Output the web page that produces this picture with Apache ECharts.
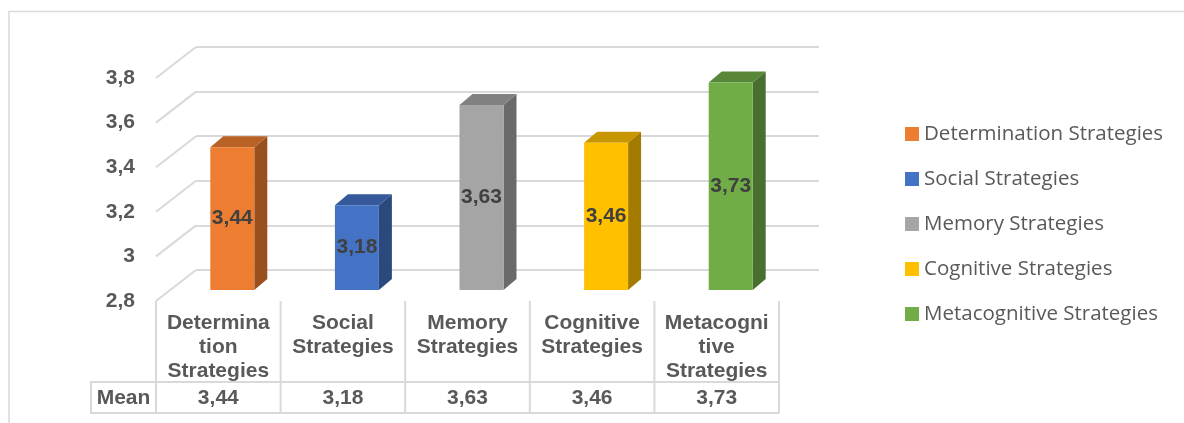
<!DOCTYPE html>
<html>
<head>
<meta charset="utf-8">
<script src="https://cdn.jsdelivr.net/npm/echarts@6/dist/echarts.min.js"></script>
<style>
  html, body { margin: 0; padding: 0; background: #fff; }
  #main { width: 1184px; height: 423px; }
</style>
</head>
<body>
<div id="main"></div>
<script>
// data
var categories = ['Determination Strategies', 'Social Strategies', 'Memory Strategies', 'Cognitive Strategies', 'Metacognitive Strategies'];
var tableHeads = ['Determina\ntion\nStrategies', 'Social\nStrategies', 'Memory\nStrategies', 'Cognitive\nStrategies', 'Metacogni\ntive\nStrategies'];
var means = [3.44, 3.18, 3.63, 3.46, 3.73];
var ticks = [2.8, 3.0, 3.2, 3.4, 3.6, 3.8];
var colors = ['#ED7D31', '#4472C4', '#A5A5A5', '#FFC000', '#70AD47'];

var yMin = 2.8, yMax = 3.8, yStep = 0.2;
var lineColor = '#d9d9d9';

function shade(hex, f) {
    var c = echarts.color.parse(hex);
    return 'rgb(' + Math.round(c[0] * f) + ',' + Math.round(c[1] * f) + ',' + Math.round(c[2] * f) + ')';
}
function comma(v) {
    return String(+v.toFixed(2)).replace('.', ',');
}

// 3d bar
function renderBar(params, api) {
    var i = api.value(0), v = api.value(1);
    var top = api.coord([i, v]);
    var base = api.coord([i, yMin]);
    var w = api.size([1, 0])[0] * 0.353;
    var dx = 13, dy = -11;
    var x0 = top[0] - w / 2, x1 = top[0] + w / 2;
    var col = colors[i];
    return {
        type: 'group',
        children: [
            { type: 'polygon', shape: { points: [[x1, top[1]], [x1 + dx, top[1] + dy], [x1 + dx, base[1] + dy], [x1, base[1]]] },
              style: { fill: shade(col, 0.64) } },
            { type: 'polygon', shape: { points: [[x0, top[1]], [x0 + dx, top[1] + dy], [x1 + dx, top[1] + dy], [x1, top[1]]] },
              style: { fill: shade(col, 0.78) } },
            { type: 'rect', shape: { x: x0, y: top[1], width: w, height: base[1] - top[1] },
              style: { fill: col } },
            { type: 'text', x: top[0], y: (top[1] + base[1]) / 2,
              style: { text: comma(v), fill: '#404040', font: 'bold 21px "Liberation Sans", Arial, sans-serif',
                       align: 'center', verticalAlign: 'middle' } }
        ]
    };
}

// floor diagonals on the left
function renderFloor(params, api) {
    var p = api.coord([0, api.value(0)]);
    var x = params.coordSys.x;
    return {
        type: 'line',
        shape: { x1: x, y1: p[1], x2: x - 40, y2: p[1] + 31 },
        style: { stroke: lineColor, lineWidth: 2 }
    };
}

// data table below the chart
function renderTable(params, api) {
    var i = api.value(0), v = api.value(1);
    var p = api.coord([i, yMin]);
    var cw = api.size([1, 0])[0];
    var xl = p[0] - cw / 2, xr = p[0] + cw / 2;
    var yTop = p[1], yMid = p[1] + 81, yBot = p[1] + 112;
    var ls = { stroke: lineColor, lineWidth: 2, fill: 'none' };
    var font = 'bold 21px "Liberation Sans", Arial, sans-serif';
    var kids = [
        { type: 'line', shape: { x1: xr, y1: yTop, x2: xr, y2: yBot }, style: ls },
        { type: 'line', shape: { x1: xl, y1: yMid, x2: xr, y2: yMid }, style: ls },
        { type: 'line', shape: { x1: xl, y1: yBot, x2: xr, y2: yBot }, style: ls },
        { type: 'text', x: p[0], y: yTop + 10,
          style: { text: tableHeads[i], fill: '#595959', font: font, align: 'center', verticalAlign: 'top', lineHeight: 24 } },
        { type: 'text', x: p[0], y: (yMid + yBot) / 2 + 1,
          style: { text: comma(v), fill: '#595959', font: font, align: 'center', verticalAlign: 'middle' } }
    ];
    if (i === 0) {
        kids.push(
            { type: 'line', shape: { x1: xl, y1: yTop, x2: xl, y2: yBot }, style: ls },
            { type: 'polyline', shape: { points: [[xl, yMid], [xl - 65, yMid], [xl - 65, yBot], [xl, yBot]] }, style: ls },
            { type: 'text', x: xl - 32.5, y: (yMid + yBot) / 2 + 1,
              style: { text: 'Mean', fill: '#595959', font: font, align: 'center', verticalAlign: 'middle' } }
        );
    }
    return { type: 'group', children: kids };
}

function hiddenX(idx) {
    return { type: 'category', gridIndex: idx, data: categories, show: false };
}
function valY(idx, extra) {
    var y = { type: 'value', gridIndex: idx, min: yMin, max: yMax, interval: yStep,
              axisLine: { show: false }, axisTick: { show: false },
              axisLabel: { show: false }, splitLine: { show: false } };
    return Object.assign(y, extra || {});
}

var barSeries = categories.map(function (name, i) {
    return {
        name: name,
        type: 'custom',
        xAxisIndex: 2,
        yAxisIndex: 2,
        itemStyle: { color: colors[i] },
        renderItem: renderBar,
        encode: { x: 0, y: 1 },
        data: [[i, means[i]]],
        z: 5
    };
});

var option = {
    backgroundColor: '#FFFFFF',
    animation: false,
    graphic: [{
        type: 'rect',
        shape: { x: 9, y: 11.5, width: 1200, height: 500 },
        style: { fill: 'none', stroke: lineColor, lineWidth: 1.5 },
        silent: true
    }],
    grid: [
        { left: 196, top: 47, width: 623, height: 223 },   // back wall
        { left: 156, top: 78, width: 623, height: 223 },   // front plane
        { left: 170, top: 67, width: 623, height: 223 }    // bars
    ],
    xAxis: [hiddenX(0), hiddenX(1), hiddenX(2)],
    yAxis: [
        valY(0, { splitLine: { show: true, lineStyle: { color: lineColor, width: 2 } } }),
        valY(1, { axisLabel: { show: true, margin: 21, color: '#595959', fontSize: 21, fontWeight: 'bold',
                               fontFamily: '"Liberation Sans", Arial, sans-serif',
                               formatter: function (v) { return comma(v); } } }),
        valY(2)
    ],
    legend: {
        orient: 'vertical',
        left: 900,
        top: 117,
        icon: 'rect',
        itemWidth: 14,
        itemHeight: 14,
        itemGap: 21,
        data: categories,
        textStyle: { color: '#595959', fontSize: 20.5, fontFamily: '"Open Sans", sans-serif', lineHeight: 24 }
    },
    series: [
        {
            type: 'custom',
            xAxisIndex: 0,
            yAxisIndex: 0,
            renderItem: renderFloor,
            data: ticks.map(function (t) { return [t]; }),
            silent: true,
            z: 1
        },
        {
            type: 'custom',
            xAxisIndex: 1,
            yAxisIndex: 1,
            renderItem: renderTable,
            data: means.map(function (m, i) { return [i, m]; }),
            silent: true,
            z: 2
        }
    ].concat(barSeries)
};

var myChart = echarts.init(document.getElementById('main'));
myChart.setOption(option);
window.addEventListener('resize', function () {
    myChart.resize();
});
</script>
</body>
</html>
